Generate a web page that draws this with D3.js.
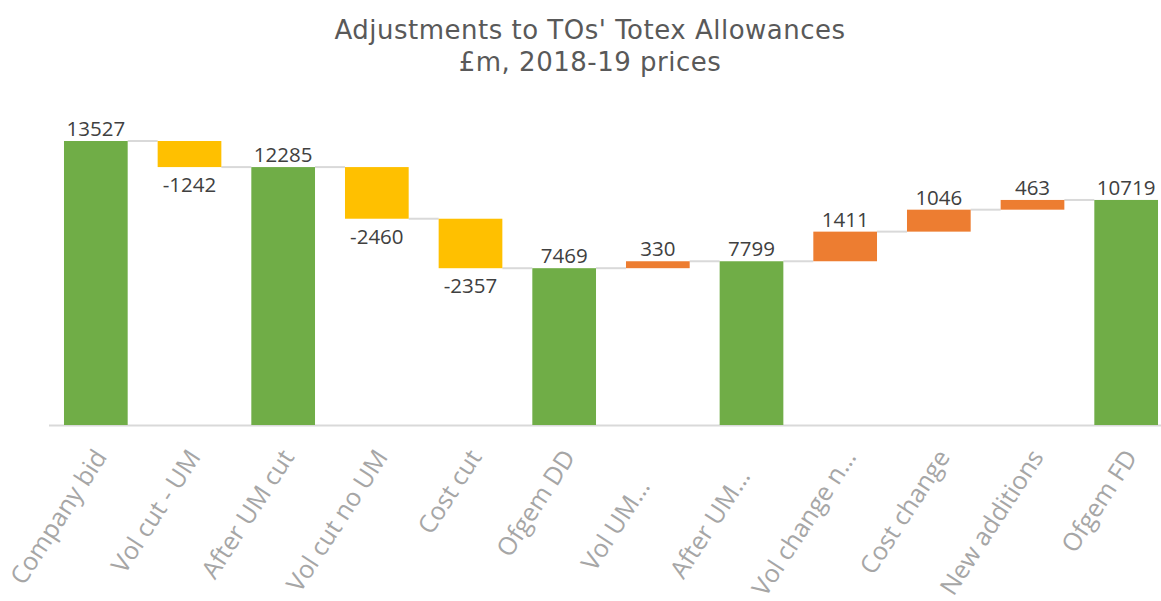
<!DOCTYPE html>
<html><head><meta charset="utf-8">
<script src="https://cdn.jsdelivr.net/npm/d3@7"></script>
<style>body{margin:0;background:#fff}</style>
</head><body><svg id="c" width="1161" height="601"></svg>
<script>
const categories = ["Company bid","Vol cut - UM","After UM cut","Vol cut no UM","Cost cut","Ofgem DD","Vol UM…","After UM…","Vol change n…","Cost change","New additions","Ofgem FD"];
const values = [13527,-1242,12285,-2460,-2357,7469,330,7799,1411,1046,463,10719];
const kinds = ["total","delta","total","delta","delta","total","delta","total","delta","delta","delta","total"];
const titleLines = ["Adjustments to TOs' Totex Allowances","£m, 2018-19 prices"];

const svg = d3.select("#c");
const x = d3.scaleBand().domain(categories).range([49,1173]).paddingInner(0.32).paddingOuter(0.16);
const y = d3.scaleLinear().domain([0,13527]).range([425,141]);

let run = 0;
const bars = categories.map((c,i)=>{
  let y0,y1;
  if(kinds[i]==="total"){ y0=0; y1=values[i]; run=values[i]; }
  else { y0=run; y1=run+values[i]; run=y1; }
  return {c, v:values[i], k:kinds[i], lo:Math.min(y0,y1), hi:Math.max(y0,y1), end:y1};
});
const color = d => d.k==="total" ? "#70ad47" : (d.v<0 ? "#ffc000" : "#ed7d31");

svg.append("g").selectAll("text").data(titleLines).join("text")
  .attr("x",590).attr("y",(d,i)=>39+i*32).attr("text-anchor","middle")
  .attr("font-family","DejaVu Sans").attr("font-size",26).attr("letter-spacing",0.5).attr("fill","#595959")
  .text(d=>d);

svg.append("g").selectAll("line").data(bars.slice(0,-1)).join("line")
  .attr("x1",(d)=>x(d.c)+x.bandwidth()).attr("x2",(d,i)=>x(categories[i+1]))
  .attr("y1",d=>y(d.end)).attr("y2",d=>y(d.end))
  .attr("stroke","#d9d9d9").attr("stroke-width",2);

svg.append("line").attr("x1",49).attr("x2",1161).attr("y1",425.5).attr("y2",425.5).attr("stroke","#d9d9d9").attr("stroke-width",2);

svg.append("g").selectAll("rect").data(bars).join("rect")
  .attr("x",d=>x(d.c)).attr("width",x.bandwidth())
  .attr("y",d=>y(d.hi)).attr("height",d=>y(d.lo)-y(d.hi))
  .attr("fill",color);

svg.append("g").selectAll("text").data(bars).join("text")
  .attr("x",d=>x(d.c)+x.bandwidth()/2)
  .attr("y",d=> d.v<0 ? y(d.lo)+25 : y(d.hi)-5)
  .attr("text-anchor","middle").attr("font-family","Open Sans").attr("font-size",20.5).attr("fill","#404040")
  .text(d=>d.v);

// truncated labels sit slightly further from the axis in the original
const truncShift = {"Vol UM…":-35,"After UM…":-23};
svg.append("g").selectAll("text").data(categories).join("text")
  .attr("transform",d=>`translate(${x(d)+x.bandwidth()/2+12},${457}) rotate(-57)`)
  .attr("dx",d=>truncShift[d]||0)
  .attr("text-anchor","end").attr("font-family","Open Sans").attr("font-size",25).attr("fill","#a6a6a6")
  .text(d=>d);
</script></body></html>
